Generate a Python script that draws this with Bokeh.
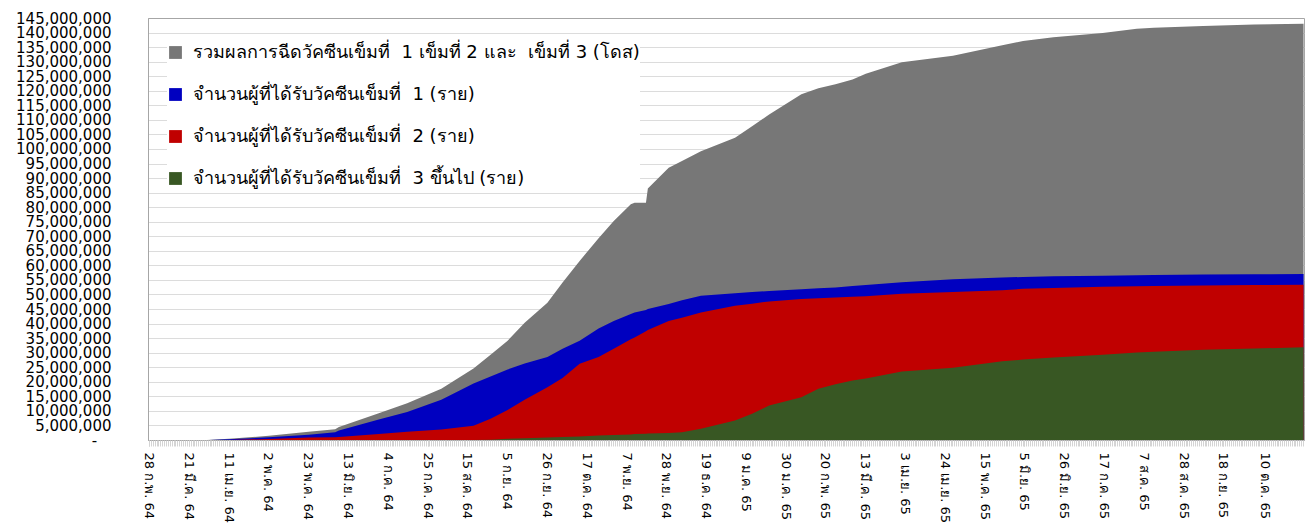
import pandas as pd
from bokeh.plotting import figure
from bokeh.models import FixedTicker, Range1d
from bokeh.embed import file_html
from bokeh.resources import INLINE

# ---- data (values in millions) ----
dates = ["2021-02-28", "2021-03-28", "2021-04-11", "2021-05-02", "2021-05-23",
         "2021-06-06", "2021-06-08", "2021-06-29", "2021-07-14", "2021-08-01",
         "2021-08-18", "2021-08-27", "2021-09-05", "2021-09-14", "2021-09-26",
         "2021-10-04", "2021-10-13", "2021-10-23", "2021-10-31", "2021-11-09",
         "2021-11-11", "2021-11-17", "2021-11-18", "2021-11-29", "2021-12-06",
         "2021-12-16", "2022-01-03", "2022-01-12", "2022-01-21", "2022-02-07",
         "2022-02-16", "2022-02-25", "2022-03-06", "2022-03-13", "2022-04-01",
         "2022-04-28", "2022-05-24", "2022-06-04", "2022-06-20", "2022-07-16",
         "2022-08-03", "2022-08-12", "2022-09-07", "2022-10-04", "2022-10-30"]

total_doses_m = [0, 0.05, 0.6, 1.6, 3.0,
                 3.9, 4.6, 9.4, 12.8, 17.8,
                 24.7, 29.5, 34.3, 40.5, 47.3,
                 54.3, 61.7, 69.5, 75.4, 81.2,
                 81.7, 81.7, 86.6, 93.7, 96.0,
                 99.4, 104.0, 108.0, 112.0, 119.0,
                 121.0, 122.4, 124.0, 126.0, 130.0,
                 132.2, 135.8, 137.3, 138.6, 140.0,
                 141.5, 141.8, 142.4, 142.9, 143.2]

dose1_m = [0, 0.05, 0.45, 1.1, 2.0,
           2.8, 3.4, 7.2, 9.8, 14.0,
           19.6, 22.0, 24.4, 26.5, 28.7,
           31.5, 34.3, 38.5, 41.1, 43.5,
           44.0, 44.8, 45.2, 46.9, 48.2,
           49.7, 50.6, 51.0, 51.4, 52.0,
           52.3, 52.6, 53.1, 53.4, 54.4,
           55.4, 56.0, 56.2, 56.4, 56.6,
           56.8, 56.9, 57.0, 57.1, 57.2]

dose2_m = [0, 0, 0.15, 0.5, 1.0,
           1.1, 1.2, 2.2, 3.0, 3.8,
           5.1, 7.5, 10.5, 14.0, 18.3,
           21.5, 26.4, 28.7, 31.5, 34.8,
           35.4, 37.5, 38.0, 41.1, 42.2,
           44.0, 46.3, 47.0, 47.8, 48.6,
           48.9, 49.1, 49.4, 49.6, 50.4,
           51.0, 51.6, 52.1, 52.4, 52.8,
           53.0, 53.1, 53.3, 53.4, 53.5]

dose3_m = [0, 0, 0, 0, 0,
           0, 0, 0, 0, 0.1,
           0.2, 0.3, 0.6, 0.8, 1.0,
           1.2, 1.4, 1.7, 1.9, 2.1,
           2.2, 2.3, 2.4, 2.6, 2.8,
           4.0, 6.9, 9.2, 12.0, 14.9,
           17.8, 19.3, 20.6, 21.3, 23.7,
           25.0, 27.2, 27.8, 28.5, 29.5,
           30.2, 30.5, 31.2, 31.6, 32.0]

series_labels = ["รวมผลการฉีดวัคซีนเข็มที่  1 เข็มที่ 2 และ  เข็มที่ 3 (โดส)",
                 "จำนวนผู้ที่ได้รับวัคซีนเข็มที่  1 (ราย)",
                 "จำนวนผู้ที่ได้รับวัคซีนเข็มที่  2 (ราย)",
                 "จำนวนผู้ที่ได้รับวัคซีนเข็มที่  3 ขึ้นไป (ราย)"]
series_colors = ["#777777", "#0000C0", "#C00000", "#385723"]

tick_dates = ["2021-02-28", "2021-03-21", "2021-04-11", "2021-05-02", "2021-05-23",
              "2021-06-13", "2021-07-04", "2021-07-25", "2021-08-15", "2021-09-05",
              "2021-09-26", "2021-10-17", "2021-11-07", "2021-11-28", "2021-12-19",
              "2022-01-09", "2022-01-30", "2022-02-20", "2022-03-13", "2022-04-03",
              "2022-04-24", "2022-05-15", "2022-06-05", "2022-06-26", "2022-07-17",
              "2022-08-07", "2022-08-28", "2022-09-18", "2022-10-10"]
tick_labels = ["28 ก.พ. 64", "21 มี.ค. 64", "11 เม.ย. 64", "2 พ.ค. 64", "23 พ.ค. 64",
               "13 มิ.ย. 64", "4 ก.ค. 64", "25 ก.ค. 64", "15 ส.ค. 64", "5 ก.ย. 64",
               "26 ก.ย. 64", "17 ต.ค. 64", "7 พ.ย. 64", "28 พ.ย. 64", "19 ธ.ค. 64",
               "9 ม.ค. 65", "30 ม.ค. 65", "20 ก.พ. 65", "13 มี.ค. 65", "3 เม.ย. 65",
               "24 เม.ย. 65", "15 พ.ค. 65", "5 มิ.ย. 65", "26 มิ.ย. 65", "17 ก.ค. 65",
               "7 ส.ค. 65", "28 ส.ค. 65", "18 ก.ย. 65", "10 ต.ค. 65"]

y_ticks = list(range(0, 145_000_001, 5_000_000))

# ---- build ----
origin = pd.Timestamp("2021-02-28")
x = [(pd.Timestamp(d) - origin).days for d in dates]
tick_x = [(pd.Timestamp(d) - origin).days for d in tick_dates]
last_day = (pd.Timestamp("2022-10-30") - origin).days

FONT = "'DejaVu Sans', Tahoma, sans-serif"

p = figure(width=1305, height=531, output_backend="svg", toolbar_location=None,
           x_range=Range1d(-0.5, last_day + 0.5), y_range=Range1d(0, 145_000_000),
           min_border_left=148, min_border_right=1, min_border_top=18,
           min_border_bottom=91)

for vals, lab, col in zip([total_doses_m, dose1_m, dose2_m, dose3_m], series_labels, series_colors):
    p.varea(x=x, y1=[0] * len(x), y2=[v * 1_000_000 for v in vals],
            fill_color=col, fill_alpha=1.0, legend_label=lab)

p.outline_line_color = "#a6a6a6"
p.xgrid.grid_line_color = None
p.ygrid.grid_line_color = "#dcdcdc"
p.ygrid.grid_line_width = 1

# y axis
p.yaxis.ticker = FixedTicker(ticks=y_ticks)
p.yaxis.major_label_overrides = {v: (f"{v:,}" if v else "-\u00a0\u00a0\u00a0") for v in y_ticks}
p.yaxis.major_label_text_font = FONT
p.yaxis.major_label_text_font_size = "15px"
p.yaxis.major_label_text_color = "#000000"
p.yaxis.major_tick_line_color = None
p.yaxis.minor_tick_line_color = None
p.yaxis.axis_line_color = "#a6a6a6"
p.yaxis.major_label_standoff = 31

# x axis
p.xaxis.ticker = FixedTicker(ticks=tick_x, minor_ticks=list(range(0, last_day + 1)))
p.xaxis.major_label_overrides = {t: l for t, l in zip(tick_x, tick_labels)}
p.xaxis.major_label_orientation = "vertical"
p.xaxis.major_label_text_font = FONT
p.xaxis.major_label_text_font_size = "13px"
p.xaxis.major_label_text_color = "#000000"
p.xaxis.axis_line_color = "#a6a6a6"
p.xaxis.major_tick_line_color = "#c8c8c8"
p.xaxis.major_tick_out = 6
p.xaxis.major_tick_in = 0
p.xaxis.minor_tick_line_color = "#d4d4d4"
p.xaxis.minor_tick_out = 6
p.xaxis.minor_tick_in = 0
p.xaxis.major_label_standoff = 6

# legend
lg = p.legend[0]
lg.location = "top_left"
lg.margin = 19
lg.padding = 12
lg.spacing = 13
lg.glyph_width = 16
lg.glyph_height = 16
lg.label_height = 20
lg.label_standoff = 10
lg.label_text_font = FONT
lg.label_text_font_size = "18px"
lg.label_text_color = "#000000"
lg.background_fill_color = "white"
lg.background_fill_alpha = 1.0
lg.border_line_color = None

open("out.html", "w").write(file_html(p, INLINE))
